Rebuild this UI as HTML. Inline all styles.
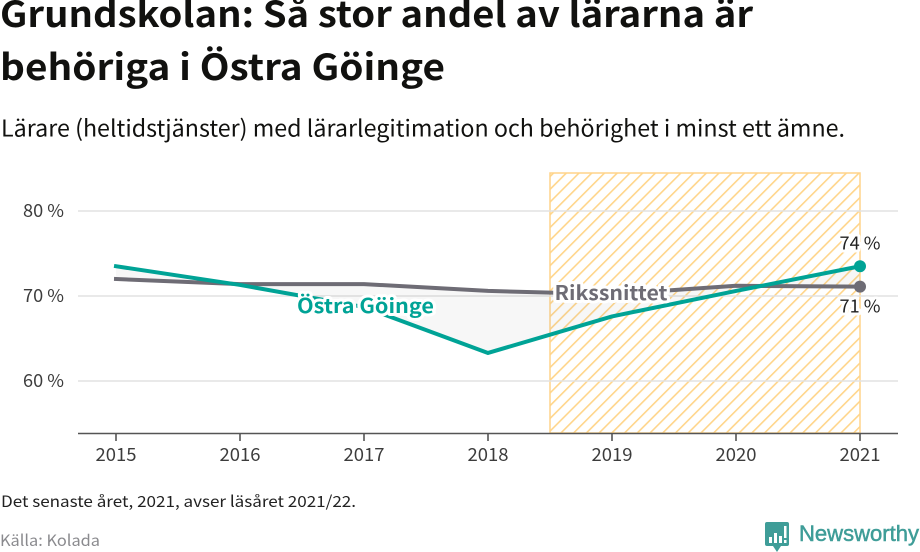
<!DOCTYPE html>
<html lang="sv">
<head>
<meta charset="utf-8">
<title>Grundskolan: Så stor andel av lärarna är behöriga i Östra Göinge</title>
<style>
html,body{margin:0;padding:0;background:#fff;width:920px;height:552px;overflow:hidden}
svg{display:block}
text{font-family:"Noto Sans CJK JP","DejaVu Sans","Liberation Sans",sans-serif}
</style>
</head>
<body>
<svg id="chart" width="920" height="552" viewBox="0 0 920 552" xmlns="http://www.w3.org/2000/svg">
<defs>
<pattern id="hatch" width="9" height="9" patternUnits="userSpaceOnUse" patternTransform="rotate(45)">
<rect x="0" y="0" width="1.6" height="9" fill="#ffd58a"></rect>
</pattern>
</defs>
<text x="0" y="27" font-size="36" font-weight="700" fill="#11110f" textLength="753" lengthAdjust="spacingAndGlyphs">Grundskolan: Så stor andel av lärarna är</text>
<text x="0" y="80" font-size="36" font-weight="700" fill="#11110f" textLength="445" lengthAdjust="spacingAndGlyphs">behöriga i Östra Göinge</text>
<text x="1" y="136.5" font-size="23" fill="#11110f" textLength="844" lengthAdjust="spacingAndGlyphs">Lärare (heltidstjänster) med lärarlegitimation och behörighet i minst ett ämne.</text>
<g id="plot"></g>
<text x="1" y="507" font-size="15.5" fill="#222" textLength="355" lengthAdjust="spacingAndGlyphs">Det senaste året, 2021, avser läsåret 2021/22.</text>
<text x="0" y="546" font-size="15.5" fill="#8a8a8e" textLength="100" lengthAdjust="spacingAndGlyphs">Källa: Kolada</text>
<g>
<path d="M767 522H787Q789 522 789 524V544Q789 546 787 546H781L777 552L773 546H767Q765 546 765 544V524Q765 522 767 522Z" fill="#3f9d98"></path>
<rect x="769" y="537" width="3" height="6" fill="#fff"></rect>
<rect x="774" y="533" width="3" height="10" fill="#fff"></rect>
<rect x="779" y="536" width="3" height="7" fill="#fff"></rect>
<rect x="784" y="526" width="2.5" height="12" fill="#fff"></rect>
<rect x="784" y="540" width="2.5" height="3" fill="#fff"></rect>
<text x="799" y="541" font-size="22" fill="#3f9d98" stroke="#3f9d98" stroke-width="0.5" style="font-family:'Liberation Sans',sans-serif" textLength="120" lengthAdjust="spacingAndGlyphs">Newsworthy</text>
</g>
</svg>
<script>
const years = [2015, 2016, 2017, 2018, 2019, 2020, 2021];
const ostraGoinge = [73.5, 71.3, 68.7, 63.3, 67.6, 70.6, 73.5];
const riksSnittet = [72.0, 71.4, 71.4, 70.6, 70.2, 71.2, 71.1];
const yTicks = [60, 70, 80];
const highlightYears = [2018.5, 2021];
const seriesNames = ['Östra Göinge', 'Rikssnittet'];

const xPos = function (year) { return 116 + (year - 2015) * 124; };
const yPos = function (value) { return 296 - (value - 70) * 8.5; };
const NS = 'http://www.w3.org/2000/svg';
const plot = document.getElementById('plot');

function make(tag, attrs, text) {
  const node = document.createElementNS(NS, tag);
  Object.keys(attrs).forEach(function (k) { node.setAttribute(k, attrs[k]); });
  if (text !== undefined) node.textContent = text;
  plot.appendChild(node);
  return node;
}
function pointsOf(values) {
  return values.map(function (v, i) { return xPos(years[i]) + ',' + yPos(v); }).join(' ');
}

// Highlight band
const bandX = xPos(highlightYears[0]);
const bandW = xPos(highlightYears[1]) - bandX;
const band = make('rect', { x: bandX, y: 173, width: bandW, height: 260, fill: 'url(#hatch)', stroke: '#ffd48a', 'stroke-width': 1.5 });



const tickStyle = { 'font-size': 18, fill: '#3c3c3c', textLength: 41, lengthAdjust: 'spacingAndGlyphs' };

// Gridlines and y labels
yTicks.forEach(function (t) {
  const grid = make('line', { x1: 78, x2: 898, y1: yPos(t), y2: yPos(t), stroke: '#e2e2e2', 'stroke-width': 1.6 });
  
  
  const label = make('text', Object.assign({ x: 23, y: yPos(t) + 6 }, tickStyle), t + ' %');
  
  
});

// Difference shading between the two series
const area = make('polygon', { points: pointsOf(ostraGoinge) + ' ' + pointsOf(riksSnittet).split(' ').reverse().join(' '), fill: '#8a8a8a', 'fill-opacity': 0.07 });



// X axis
const axis = make('line', { x1: 78, x2: 898, y1: 433.5, y2: 433.5, stroke: '#555', 'stroke-width': 1.6 });


years.forEach(function (yr) {
  const tick = make('line', { x1: xPos(yr), x2: xPos(yr), y1: 433, y2: 441, stroke: '#555', 'stroke-width': 1.6 });
  
  
  const label = make('text', Object.assign({ x: xPos(yr), y: 461, 'text-anchor': 'middle' }, tickStyle), yr);
  
  
});

// Series lines
const greyLine = make('polyline', { points: pointsOf(riksSnittet), fill: 'none', stroke: '#6e6c75', 'stroke-width': 4, 'stroke-linejoin': 'round', 'stroke-linecap': 'square' });


const tealLine = make('polyline', { points: pointsOf(ostraGoinge), fill: 'none', stroke: '#00a396', 'stroke-width': 4, 'stroke-linejoin': 'round', 'stroke-linecap': 'square' });



// End points
const last = years.length - 1;
const greyDot = make('circle', { cx: xPos(years[last]), cy: yPos(riksSnittet[last]), r: 6, fill: '#6e6c75' });


const tealDot = make('circle', { cx: xPos(years[last]), cy: yPos(ostraGoinge[last]), r: 6, fill: '#00a396' });



const halo = { stroke: '#fff', 'stroke-width': 6, 'paint-order': 'stroke', 'stroke-linejoin': 'round' };
function withHalo(attrs) { return Object.assign({}, halo, attrs); }

// Value labels
const tealValue = make('text', withHalo({ x: xPos(years[last]), y: yPos(ostraGoinge[last]) - 17, 'text-anchor': 'middle', 'font-size': 18, fill: '#222', textLength: 41, lengthAdjust: 'spacingAndGlyphs' }), Math.round(ostraGoinge[last]) + ' %');


const greyValue = make('text', withHalo({ x: xPos(years[last]), y: yPos(riksSnittet[last]) + 26, 'text-anchor': 'middle', 'font-size': 18, fill: '#222', textLength: 41, lengthAdjust: 'spacingAndGlyphs' }), Math.round(riksSnittet[last]) + ' %');



// Series name labels
const tealName = make('text', withHalo({ x: 365.5, y: 313, 'text-anchor': 'middle', 'font-size': 20, 'font-weight': 700, fill: '#00a396', textLength: 137, lengthAdjust: 'spacingAndGlyphs' }), seriesNames[0]);


const greyName = make('text', withHalo({ x: 611, y: 300, 'text-anchor': 'middle', 'font-size': 20, 'font-weight': 700, fill: '#6e6c75', textLength: 113, lengthAdjust: 'spacingAndGlyphs' }), seriesNames[1]);


</script>
</body>
</html>
